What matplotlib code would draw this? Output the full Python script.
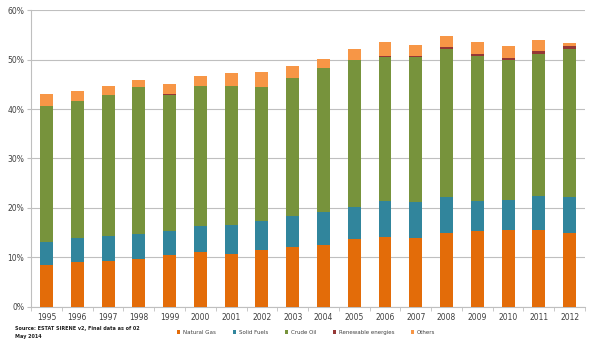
import matplotlib
matplotlib.use("Agg")
import matplotlib.pyplot as plt
import numpy as np

years = [str(y) for y in range(1995, 2013)]
natural_gas = [8.5, 9.0, 9.2, 9.6, 10.4, 11.0, 10.6, 11.5, 12.0, 12.4, 13.6, 14.1, 13.9, 14.8, 15.2, 15.4, 15.5, 14.9]
solid_fuels = [4.6, 4.8, 5.1, 5.0, 4.9, 5.4, 6.0, 5.9, 6.3, 6.8, 6.6, 7.3, 7.3, 7.4, 6.2, 6.2, 6.9, 7.2]
crude_oil = [27.5, 27.8, 28.45, 29.8, 27.5, 28.2, 28.0, 27.1, 28.0, 29.2, 29.7, 29.1, 29.4, 30.0, 29.4, 28.4, 28.8, 30.0]
renewables = [0.0, 0.0, 0.0, 0.0, 0.2, 0.0, 0.0, 0.0, 0.0, 0.0, 0.1, 0.2, 0.2, 0.3, 0.3, 0.3, 0.5, 0.7]
others = [2.4, 2.1, 1.85, 1.4, 2.1, 2.1, 2.7, 3.0, 2.4, 1.7, 2.2, 2.8, 2.1, 2.3, 2.5, 2.4, 2.2, 0.5]

series = [
    ("Natural Gas", natural_gas, "#E36C09"),
    ("Solid Fuels", solid_fuels, "#31859C"),
    ("Crude Oil", crude_oil, "#77933C"),
    ("Renewable energies", renewables, "#953735"),
    ("Others", others, "#F79646"),
]

fig = plt.figure(figsize=(6.0, 3.53), dpi=100)
ax = fig.add_axes([0.052, 0.1317, 0.923, 0.8391])

x = np.arange(len(years))
bottom = np.zeros(len(years))
handles = []
for name, vals, col in series:
    v = np.array(vals)
    b = ax.bar(x, v, width=0.42, bottom=bottom, color=col, label=name, zorder=3)
    handles.append(b)
    bottom += v

ax.set_xlim(-0.5, len(years) - 0.5)
ax.set_ylim(0, 60)
ax.set_yticks(np.arange(0, 61, 10))
ax.set_yticklabels([f"{v}%" for v in range(0, 61, 10)], fontsize=5.5, color="#404040")
ax.set_xticks(x)
ax.set_xticklabels(years, fontsize=5.5, color="#404040")
ax.tick_params(axis="x", length=0, pad=5)
ax.set_xticks(np.arange(-0.5, len(years), 1), minor=True)
ax.tick_params(axis="x", which="minor", length=3, color="#BFBFBF", direction="out")
ax.tick_params(axis="y", length=3, color="#BFBFBF", pad=2)
ax.grid(axis="y", color="#BFBFBF", linewidth=0.8, zorder=0)
for s in ["top", "right"]:
    ax.spines[s].set_visible(False)
ax.spines["left"].set_color("#BFBFBF")
ax.spines["bottom"].set_color("#BFBFBF")

fig.legend(handles=handles, labels=[s[0] for s in series], loc="center left",
           bbox_to_anchor=(0.295, 0.058), ncol=5, fontsize=4.0, frameon=False,
           handlelength=0.6, handleheight=0.6, columnspacing=3.0, handletextpad=0.5,
           labelcolor="#404040", borderaxespad=0, borderpad=0)

fig.text(0.025, 0.057, "Source: ESTAT SIRENE v2, Final data as of 02\nMay 2014",
         fontsize=3.5, fontweight="bold", color="#202020", va="center", ha="left",
         linespacing=1.7)

fig.savefig("out.png", dpi=100)
